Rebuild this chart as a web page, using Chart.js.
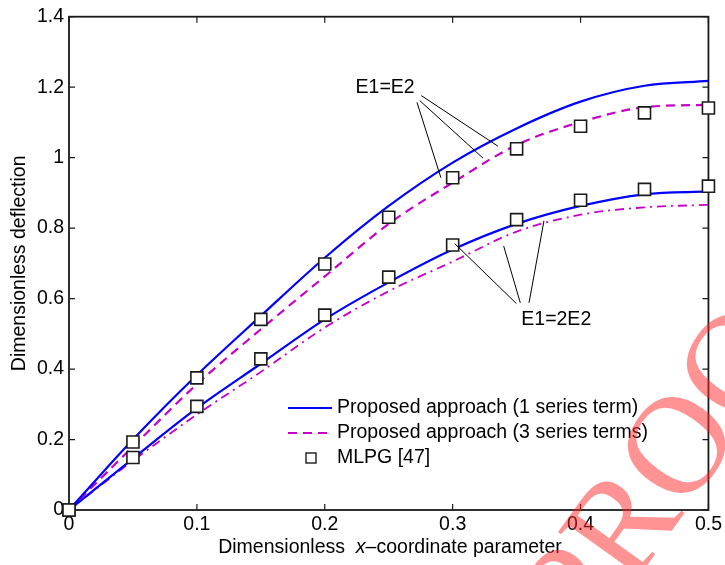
<!DOCTYPE html>
<html lang="en">
<head>
<meta charset="UTF-8">
<title>Dimensionless deflection</title>
<script src="https://cdn.jsdelivr.net/npm/chart.js"></script>
<style>
  body { margin: 0; background: #fff; }
</style>
</head>
<body>
<canvas id="myChart" width="725" height="565"></canvas>
<script>
    // x positions along the plate (dimensionless)
    var xValues = [0, 0.05, 0.1, 0.15, 0.2, 0.25, 0.3, 0.35, 0.4, 0.45, 0.5];

    // E1=E2 curves
    var equalOneTerm   = [0, 0.200, 0.383, 0.551, 0.716, 0.863, 0.986, 1.083, 1.159, 1.204, 1.218];
    var equalThreeTerm = [0, 0.180, 0.357, 0.513, 0.663, 0.812, 0.929, 1.036, 1.101, 1.143, 1.150];
    // E1=2E2 curves
    var doubleOneTerm   = [0, 0.146, 0.289, 0.415, 0.541, 0.646, 0.739, 0.812, 0.863, 0.896, 0.904];
    var doubleThreeTerm = [0, 0.140, 0.271, 0.392, 0.518, 0.621, 0.705, 0.790, 0.838, 0.859, 0.866];

    // MLPG [47] reference points
    var mlpgX      = [0, 0.05, 0.1, 0.15, 0.2, 0.25, 0.3, 0.35, 0.4, 0.45, 0.5];
    var mlpgEqual  = [0, 0.193, 0.375, 0.541, 0.698, 0.831, 0.943, 1.025, 1.089, 1.127, 1.141];
    var mlpgDouble = [0, 0.149, 0.294, 0.429, 0.553, 0.661, 0.752, 0.824, 0.879, 0.910, 0.919];

    var xTicks = [0, 0.1, 0.2, 0.3, 0.4, 0.5];
    var yTicks = [0, 0.2, 0.4, 0.6, 0.8, 1, 1.2, 1.4];

    var legendLabels = ['Proposed approach (1 series term)', 'Proposed approach (3 series terms)', 'MLPG [47]'];

    // annotation leader lines, in data units [x1, y1, x2, y2]
    var equalLabel = { text: 'E1=E2', x: 0.2472, y: 1.198 };
    var equalLeaders = [
        [0.2755, 1.176, 0.3354, 1.0325],
        [0.2742, 1.162, 0.3237, 0.9988],
        [0.2721, 1.157, 0.2908, 0.943]
    ];
    var doubleLabel = { text: 'E1=2E2', x: 0.381, y: 0.541 };
    var doubleLeaders = [
        [0.3498, 0.586, 0.3016, 0.756],
        [0.3529, 0.588, 0.3399, 0.749],
        [0.3597, 0.588, 0.3714, 0.821]
    ];

    var FONT = '"Liberation Sans", Arial, sans-serif';
    var FSIZE = 19.5;
    var BLUE = '#0000ff';
    var MAGENTA = '#c800c8';

    function pts(xs, ys) {
        return xs.map(function (x, i) { return { x: x, y: ys[i] }; });
    }

    // inward ticks, box, titles, annotations, legend
    var extras = {
        id: 'extras',
        beforeDatasetsDraw: function (chart) {
            var ctx = chart.ctx;
            var a = chart.chartArea;
            var xs = chart.scales.x, ys = chart.scales.y;
            ctx.save();
            ctx.strokeStyle = '#1a1a1a';
            ctx.lineWidth = 1.8;
            ctx.strokeRect(a.left, a.top, a.right - a.left, a.bottom - a.top);
            ctx.lineWidth = 1.2;
            ctx.beginPath();
            xTicks.forEach(function (v) {
                var px = xs.getPixelForValue(v);
                ctx.moveTo(px, a.bottom); ctx.lineTo(px, a.bottom - 6);
                ctx.moveTo(px, a.top); ctx.lineTo(px, a.top + 6);
            });
            yTicks.forEach(function (v) {
                var py = ys.getPixelForValue(v);
                ctx.moveTo(a.left, py); ctx.lineTo(a.left + 6, py);
                ctx.moveTo(a.right, py); ctx.lineTo(a.right - 6, py);
            });
            ctx.stroke();
            ctx.restore();
        },
        afterDatasetsDraw: function (chart) {
            var ctx = chart.ctx;
            var a = chart.chartArea;
            var xs = chart.scales.x, ys = chart.scales.y;
            ctx.save();

            // leader lines
            ctx.strokeStyle = '#000';
            ctx.lineWidth = 1;
            ctx.beginPath();
            equalLeaders.concat(doubleLeaders).forEach(function (l) {
                ctx.moveTo(xs.getPixelForValue(l[0]), ys.getPixelForValue(l[1]));
                ctx.lineTo(xs.getPixelForValue(l[2]), ys.getPixelForValue(l[3]));
            });
            ctx.stroke();

            ctx.fillStyle = '#000';
            ctx.font = FSIZE + 'px ' + FONT;
            ctx.textAlign = 'center';
            ctx.textBaseline = 'middle';
            [equalLabel, doubleLabel].forEach(function (t) {
                ctx.fillText(t.text, xs.getPixelForValue(t.x), ys.getPixelForValue(t.y));
            });

            // legend
            var lx = 288, ly = 408, dy = 25;
            ctx.lineWidth = 2.2;
            ctx.strokeStyle = BLUE;
            ctx.setLineDash([]);
            ctx.beginPath(); ctx.moveTo(lx, ly); ctx.lineTo(lx + 44, ly); ctx.stroke();
            ctx.strokeStyle = MAGENTA;
            ctx.setLineDash([9, 6]);
            ctx.beginPath(); ctx.moveTo(lx, ly + dy); ctx.lineTo(lx + 44, ly + dy); ctx.stroke();
            ctx.setLineDash([]);
            ctx.strokeStyle = '#1a1a1a';
            ctx.lineWidth = 1.4;
            ctx.fillStyle = '#fff';
            ctx.fillRect(lx + 18, ly + 2 * dy - 5, 10, 10);
            ctx.strokeRect(lx + 18, ly + 2 * dy - 5, 10, 10);
            ctx.fillStyle = '#000';
            ctx.textAlign = 'left';
            legendLabels.forEach(function (s, i) {
                ctx.fillText(s, lx + 49, ly + i * dy);
            });

            // axis titles
            ctx.save();
            ctx.translate(20, (a.top + a.bottom) / 2);
            ctx.rotate(-Math.PI / 2);
            ctx.textAlign = 'center';
            ctx.fillText('Dimensionless deflection', 0, 0);
            ctx.restore();

            var parts = [['Dimensionless  ', ''], ['x', 'italic '], ['\u2013coordinate parameter', '']];
            var total = 0;
            parts.forEach(function (p) { ctx.font = p[1] + FSIZE + 'px ' + FONT; total += ctx.measureText(p[0]).width; });
            var tx = 390 - total / 2;
            ctx.textAlign = 'left';
            parts.forEach(function (p) {
                ctx.font = p[1] + FSIZE + 'px ' + FONT;
                ctx.fillText(p[0], tx, 548);
                tx += ctx.measureText(p[0]).width;
            });

            // watermark
            ctx.save();
            ctx.translate(585, 652);
            ctx.rotate(-0.95);
            ctx.font = '140px "Liberation Serif", serif';
            ctx.fillStyle = 'rgba(255, 40, 40, 0.5)';
            ctx.textAlign = 'left';
            ctx.textBaseline = 'alphabetic';
            ctx.fillText('PROOF', 0, 0);
            ctx.restore();

            ctx.restore();
        }
    };

    var ctx = document.getElementById('myChart').getContext('2d');
    var myChart = new Chart(ctx, {
        type: 'line',
        data: {
            datasets: [
                {
                    label: 'MLPG [47]',
                    data: pts(mlpgX, mlpgEqual).concat(pts(mlpgX, mlpgDouble)),
                    showLine: false,
                    clip: false,
                    pointStyle: 'rect',
                    pointRadius: 8.5,
                    pointBackgroundColor: '#fff',
                    pointBorderColor: '#1a1a1a',
                    pointBorderWidth: 1.6,
                    order: 0
                },
                {
                    label: 'E1=E2, 1 term',
                    data: pts(xValues, equalOneTerm),
                    borderColor: BLUE, borderWidth: 2.2, pointRadius: 0,
                    cubicInterpolationMode: 'monotone', order: 1
                },
                {
                    label: 'E1=E2, 3 terms',
                    data: pts(xValues, equalThreeTerm),
                    borderColor: MAGENTA, borderWidth: 2.2, pointRadius: 0,
                    borderDash: [9, 6], cubicInterpolationMode: 'monotone', order: 1
                },
                {
                    label: 'E1=2E2, 1 term',
                    data: pts(xValues, doubleOneTerm),
                    borderColor: BLUE, borderWidth: 2.2, pointRadius: 0,
                    cubicInterpolationMode: 'monotone', order: 1
                },
                {
                    label: 'E1=2E2, 3 terms',
                    data: pts(xValues, doubleThreeTerm),
                    borderColor: MAGENTA, borderWidth: 1.8, pointRadius: 0,
                    borderDash: [9, 5, 2, 5], cubicInterpolationMode: 'monotone', order: 1
                }
            ]
        },
        options: {
            responsive: false,
            animation: false,
            layout: { padding: { left: 0, right: 16, top: 10, bottom: 0 } },
            plugins: { legend: { display: false }, tooltip: { enabled: false } },
            elements: { line: { fill: false } },
            scales: {
                x: {
                    type: 'linear',
                    min: 0, max: 0.5,
                    afterBuildTicks: function (s) { s.ticks = xTicks.map(function (v) { return { value: v }; }); },
                    afterFit: function (s) { s.height = 55; },
                    ticks: {
                        color: '#000', font: { family: FONT, size: FSIZE }, padding: 3, maxRotation: 0,
                        callback: function (v) { return String(+v.toFixed(2)); }
                    },
                    grid: { display: false, drawTicks: false },
                    border: { display: false }
                },
                y: {
                    min: 0, max: 1.4,
                    afterBuildTicks: function (s) { s.ticks = yTicks.map(function (v) { return { value: v }; }); },
                    afterFit: function (s) { s.width = 69; },
                    ticks: {
                        color: '#000', font: { family: FONT, size: FSIZE }, padding: 5,
                        callback: function (v) { return String(+v.toFixed(2)); }
                    },
                    grid: { display: false, drawTicks: false },
                    border: { display: false }
                }
            }
        },
        plugins: [extras]
    });
</script>
</body>
</html>
